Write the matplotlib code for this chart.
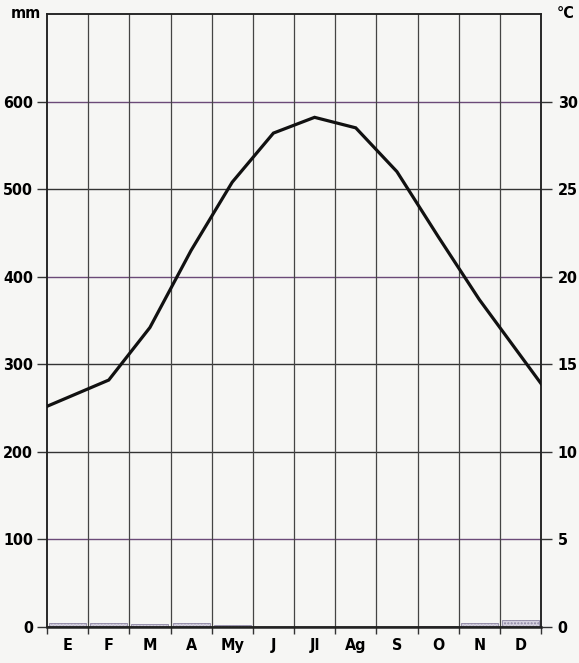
import numpy as np
from matplotlib import pyplot as plt

plt.rcParams['font.family'] = ['DejaVu Sans']
plt.rcParams['font.weight'] = 'bold'
plt.rcParams['font.stretch'] = 'condensed'

months = ['E', 'F', 'M', 'A', 'My', 'J', 'Jl', 'Ag', 'S', 'O', 'N', 'D']
precip = [5, 4, 3, 4, 2, 0, 0, 0, 0, 1, 4, 8]          # mm
temp = [13.1, 14.1, 17.1, 21.5, 25.4, 28.2, 29.1, 28.5, 26.0, 22.3, 18.7, 15.5]  # degC
mm_ticks = [0, 100, 200, 300, 400, 500, 600]
c_ticks = [0, 5, 10, 15, 20, 25, 30]

fs = 11.5
bg = '#f6f6f4'
fig = plt.figure(figsize=(5.79, 6.63), dpi=100, facecolor=bg)
ax = fig.add_axes([47/579, 1 - 627/663, (541 - 47)/579, (627 - 14)/663])
ax.set_facecolor(bg)

x = np.arange(len(months)) + 0.5

# precipitation bars (tiny, hatched)
ax.bar(x, precip, width=0.9, color='#d4d0de', edgecolor='#8d86a3',
       hatch='.....', linewidth=0.6, zorder=2)

ax.set_xlim(0, 12)
ax.set_ylim(0, 700)

# grid
for yv in mm_ticks[1:]:
    col = '#6b4a78' if yv in (100, 400, 600) else '#333333'
    ax.axhline(yv, color=col, lw=1.0, zorder=1)
for xv in range(1, 12):
    ax.axvline(xv, color='#444444', lw=0.9, zorder=1)

ax.set_yticks(mm_ticks)
ax.set_yticklabels([str(v) for v in mm_ticks], fontsize=fs)
ax.set_xticks(range(13))
ax.set_xticklabels([])
ax.set_xticks(x, minor=True)
ax.set_xticklabels(months, minor=True, fontsize=fs)
ax.tick_params(axis='x', which='minor', length=0, pad=8)
ax.tick_params(axis='x', which='major', length=5, width=1, color='#333333')
ax.tick_params(axis='y', length=7, width=1, color='#333333', pad=3)
for s in ax.spines.values():
    s.set_color('#222222')
    s.set_linewidth(1.1)
ax.spines['bottom'].set_linewidth(1.8)

# temperature line, extended to the frame edges
ax2 = ax.twinx()
ax2.set_ylim(0, 35)
ax2.set_yticks(c_ticks)
ax2.set_yticklabels([str(v) for v in c_ticks], fontsize=fs)
ax2.tick_params(axis='y', length=8, width=1, color='#333333', pad=4)
t_start = temp[0] - 0.5 * (temp[1] - temp[0])
t_end = temp[-1] + 0.5 * (temp[-1] - temp[-2])
xl = np.concatenate([[0], x, [12]])
tl = np.concatenate([[t_start], temp, [t_end]])
ax2.plot(xl, tl, color='#111111', lw=2.3, solid_joinstyle='miter', zorder=5)
for s in ax2.spines.values():
    s.set_color('#222222')
    s.set_linewidth(1.1)

fig.text(11/579, 1 - 14/663, 'mm', fontsize=fs, va='center', ha='left')
fig.text(557/579, 1 - 14/663, '°C', fontsize=fs, va='center', ha='left')

fig.savefig('out.png', dpi=100, facecolor=bg)
